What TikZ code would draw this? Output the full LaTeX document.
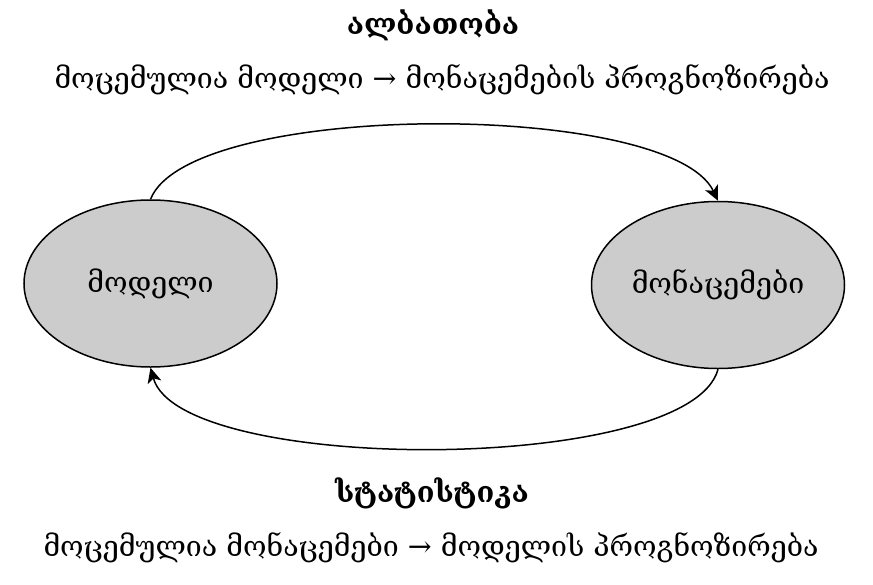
\documentclass[tikz,border=0pt]{standalone}
\usepackage{fontspec}
\setmainfont{DejaVu Serif}
\usetikzlibrary{shapes.geometric,arrows.meta}
\begin{document}
\begin{tikzpicture}[x=1pt,y=-1pt,
  blob/.style={ellipse,draw,line width=1.5pt,fill={rgb,255:red,204;green,204;blue,204},minimum width=253pt,minimum height=167pt,inner sep=0pt,font=\fontsize{28.5}{32}\selectfont},
  link/.style={line width=1.5pt,-{Stealth[length=15pt,width=14pt,inset=4pt]}},
  head/.style={font=\bfseries\fontsize{29}{34}\selectfont},
  sub/.style={font=\fontsize{28.5}{32}\selectfont}]
\useasboundingbox (0,0) rectangle (873,584);
\node[blob] (model) at (150.5,283.5) {მოდელი};
\node[blob] (data) at (718,285) {მონაცემები};
\node[head] (prob) at (433,25) {ალბათობა};
\node[sub] (probsub) at (442,80) {მოცემულია მოდელი → მონაცემების პროგნოზირება};
\node[head] (stat) at (432,493) {სტატისტიკა};
\node[sub] (statsub) at (431,548) {მოცემულია მონაცემები → მოდელის პროგნოზირება};
\draw[link] (model.north) .. controls (190,100) and (670,100) .. (data.north);
\draw[link] (data.south) .. controls (690,475) and (180,475) .. (model.south);
\end{tikzpicture}
\end{document}
